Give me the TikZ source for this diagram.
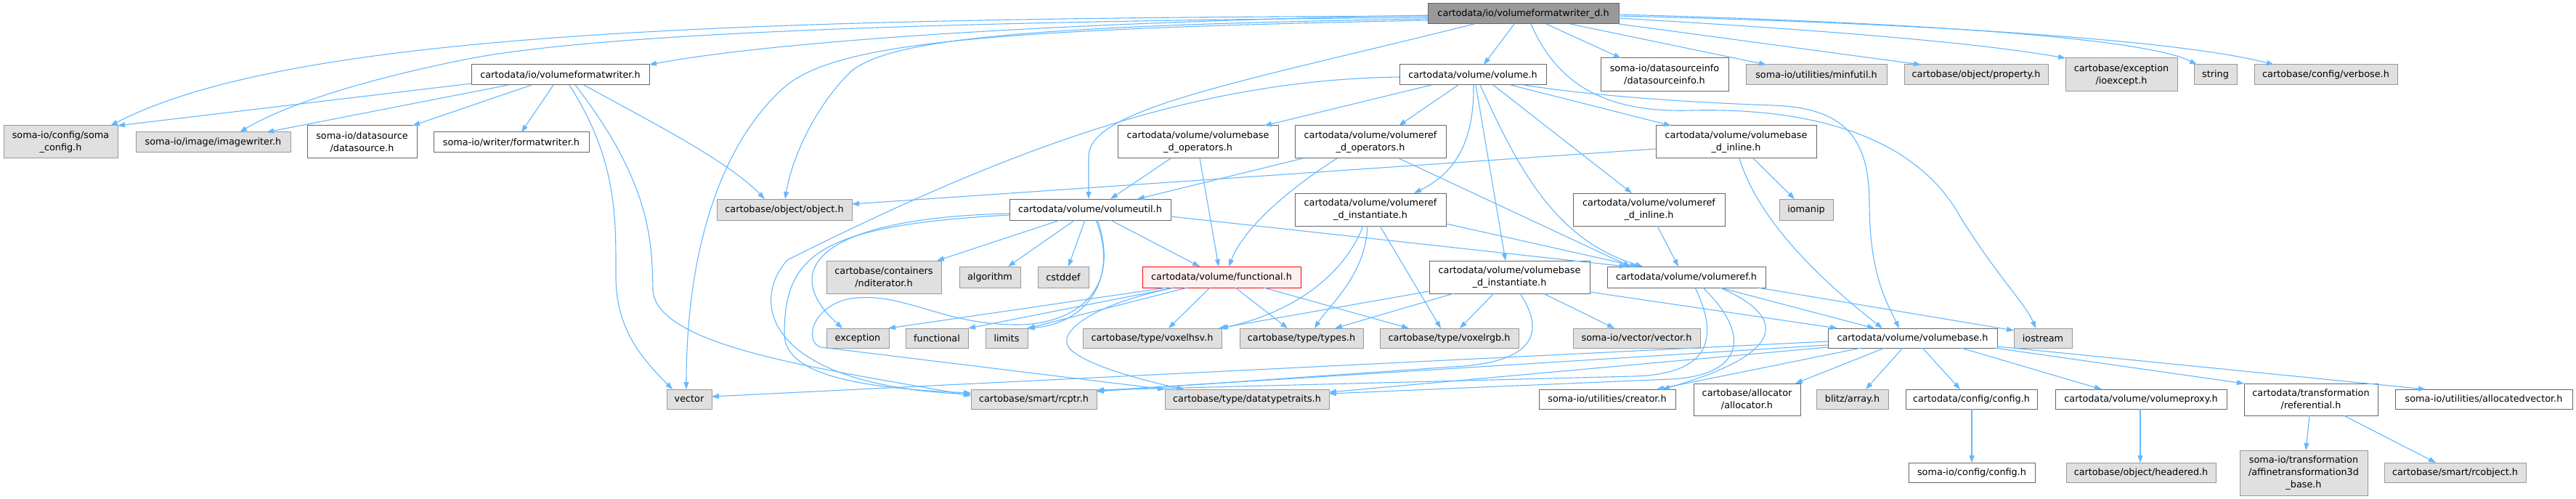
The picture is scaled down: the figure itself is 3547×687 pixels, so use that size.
\documentclass[tikz,border=0pt]{standalone}
\usepackage{fontspec}
\setmainfont{DejaVu Sans}
\usetikzlibrary{arrows.meta}
\definecolor{edgec}{HTML}{63B8FF}
\definecolor{gfill}{HTML}{E0E0E0}
\definecolor{gdraw}{HTML}{999999}
\definecolor{wdraw}{HTML}{666666}
\definecolor{topfill}{HTML}{999999}
\definecolor{redfill}{HTML}{FFF0F0}
\newcommand\mkbox[7]{\node[#6, minimum width={(#3-#2)*1pt}, minimum height={(#5-#4)*1pt}] (#1) at ({(#2+#3)/2},{(#4+#5)/2}) {#7};}
\begin{document}
\begin{tikzpicture}[x=1pt,y=-1pt,
 box/.style={rectangle, inner sep=0pt, outer sep=0pt, align=center, font=\fontsize{12.8}{17}\selectfont, line width=1pt},
 gbox/.style={box, fill=gfill, draw=gdraw},
 wbox/.style={box, fill=white, draw=wdraw},
 tbox/.style={box, fill=topfill, draw=wdraw},
 rbox/.style={box, fill=redfill, draw=red},
 edg/.style={draw=edgec, line width=1.1pt, -{Triangle[length=10pt,width=7pt]}}]
\fill[white] (0,0) rectangle (3547,687);
\useasboundingbox (0,0) rectangle (3547,687);
% nodes
\mkbox{top}{1966}{2229}{5}{33}{tbox}{cartodata/io/volumeformatwriter\_d.h}
\mkbox{vfw}{649}{894}{89}{117}{wbox}{cartodata/io/volumeformatwriter.h}
\mkbox{soma}{5}{162}{173}{218}{gbox}{soma-io/config/soma\\\_config.h}
\mkbox{imgw}{187}{400}{182}{210}{gbox}{soma-io/image/imagewriter.h}
\mkbox{dsrc}{423}{574}{173}{218}{wbox}{soma-io/datasource\\/datasource.h}
\mkbox{fmtw}{597}{811}{182}{210}{wbox}{soma-io/writer/formatwriter.h}
\mkbox{obj}{987}{1173}{274}{303}{gbox}{cartobase/object/object.h}
\mkbox{vutil}{1390}{1612}{274}{303}{wbox}{cartodata/volume/volumeutil.h}
\mkbox{vbops}{1539}{1760}{173}{218}{wbox}{cartodata/volume/volumebase\\\_d\_operators.h}
\mkbox{vol}{1927}{2129}{89}{117}{wbox}{cartodata/volume/volume.h}
\mkbox{vrops}{1783}{1991}{173}{218}{wbox}{cartodata/volume/volumeref\\\_d\_operators.h}
\mkbox{dsinfo}{2204}{2380}{80}{126}{wbox}{soma-io/datasourceinfo\\/datasourceinfo.h}
\mkbox{minf}{2404}{2598}{89}{117}{gbox}{soma-io/utilities/minfutil.h}
\mkbox{vbinl}{2280}{2501}{173}{218}{wbox}{cartodata/volume/volumebase\\\_d\_inline.h}
\mkbox{vrinst}{1783}{1991}{266}{311}{wbox}{cartodata/volume/volumeref\\\_d\_instantiate.h}
\mkbox{vrinl}{2166}{2375}{266}{311}{wbox}{cartodata/volume/volumeref\\\_d\_inline.h}
\mkbox{ioman}{2450}{2524}{274}{303}{gbox}{iomanip}
\mkbox{prop}{2622}{2820}{89}{117}{gbox}{cartobase/object/property.h}
\mkbox{ioexc}{2844}{2998}{80}{126}{gbox}{cartobase/exception\\/ioexcept.h}
\mkbox{str}{3021}{3080}{89}{117}{gbox}{string}
\mkbox{verb}{3104}{3301}{89}{117}{gbox}{cartobase/config/verbose.h}
\mkbox{ndit}{1138}{1296}{359}{404}{gbox}{cartobase/containers\\/nditerator.h}
\mkbox{algo}{1321}{1405}{367}{396}{gbox}{algorithm}
\mkbox{cstd}{1429}{1499}{367}{396}{gbox}{cstddef}
\mkbox{func}{1573}{1791}{367}{396}{rbox}{cartodata/volume/functional.h}
\mkbox{vbinst}{1968}{2189}{359}{404}{wbox}{cartodata/volume/volumebase\\\_d\_instantiate.h}
\mkbox{vref}{2213}{2431}{367}{396}{wbox}{cartodata/volume/volumeref.h}
\mkbox{exc}{1138}{1224}{452}{479}{gbox}{exception}
\mkbox{fnl}{1247}{1333}{452}{479}{gbox}{functional}
\mkbox{lim}{1357}{1415}{452}{479}{gbox}{limits}
\mkbox{hsv}{1491}{1682}{452}{479}{gbox}{cartobase/type/voxelhsv.h}
\mkbox{types}{1707}{1877}{452}{479}{gbox}{cartobase/type/types.h}
\mkbox{rgb}{1900}{2091}{452}{479}{gbox}{cartobase/type/voxelrgb.h}
\mkbox{svec}{2166}{2341}{452}{479}{gbox}{soma-io/vector/vector.h}
\mkbox{vbase}{2517}{2750}{452}{479}{wbox}{cartodata/volume/volumebase.h}
\mkbox{iost}{2773}{2853}{452}{479}{gbox}{iostream}
\mkbox{vec}{918}{980}{536}{563}{gbox}{vector}
\mkbox{rcptr}{1337}{1510}{536}{563}{gbox}{cartobase/smart/rcptr.h}
\mkbox{dtt}{1604}{1830}{536}{563}{gbox}{cartobase/type/datatypetraits.h}
\mkbox{creat}{2119}{2307}{536}{563}{wbox}{soma-io/utilities/creator.h}
\mkbox{alloc}{2332}{2479}{528}{572}{wbox}{cartobase/allocator\\/allocator.h}
\mkbox{blitz}{2501}{2600}{536}{563}{gbox}{blitz/array.h}
\mkbox{ccfg}{2624}{2805}{536}{563}{wbox}{cartodata/config/config.h}
\mkbox{vproxy}{2830}{3066}{536}{563}{wbox}{cartodata/volume/volumeproxy.h}
\mkbox{refer}{3090}{3274}{528}{572}{wbox}{cartodata/transformation\\/referential.h}
\mkbox{avec}{3298}{3542}{536}{563}{wbox}{soma-io/utilities/allocatedvector.h}
\mkbox{scfg}{2628}{2802}{637}{664}{wbox}{soma-io/config/config.h}
\mkbox{hdr}{2845}{3051}{637}{664}{gbox}{cartobase/object/headered.h}
\mkbox{affine}{3084}{3260}{620}{682}{gbox}{soma-io/transformation\\/affinetransformation3d\\\_base.h}
\mkbox{rcobj}{3283}{3478}{637}{664}{gbox}{cartobase/smart/rcobject.h}
% edges from top
\draw[edg] ([yshift=-16pt]top.north west) .. controls (1400,32) and (1050,60) .. (vfw.north east);
\draw[edg] ([yshift=-17pt]top.north west) .. controls (1000,25) and (400,45) .. ([xshift=147pt]soma.north west);
\draw[edg] ([yshift=-19pt]top.north west) .. controls (1200,30) and (800,50) .. (640,82) .. controls (520,106) and (400,140) .. ([xshift=143pt]imgw.north west);
\draw[edg] ([yshift=-21pt]top.north west) .. controls (1400,35) and (1220,55) .. (1170,100) .. controls (1120,150) and (1090,220) .. ([xshift=94pt]obj.north west);
\draw[edg] ([yshift=-23pt]top.north west) .. controls (1350,40) and (1150,60) .. (1080,120) .. controls (990,200) and (945,350) .. ([xshift=27pt]vec.north west);
\draw[edg] ([xshift=64pt]top.south west) .. controls (1700,115) and (1500,150) .. (1499,215) -- ([xshift=109pt]vutil.north west);
\draw[edg] ([xshift=119pt]top.south west) -- ([xshift=116pt]vol.north west);
\draw[edg] ([xshift=163pt]top.south west) -- ([xshift=28pt]dsinfo.north west);
\draw[edg] ([xshift=196pt]top.south west) -- ([xshift=28pt]minf.north west);
\draw[edg] (top.south east) -- ([xshift=23pt]prop.north west);
\draw[edg] ([yshift=-20pt]top.north east) .. controls (2450,38) and (2700,55) .. (ioexc.north west);
\draw[edg] ([yshift=-15pt]top.north east) .. controls (2600,30) and (2950,50) .. ([xshift=4pt]str.north west);
\draw[edg] ([yshift=-17pt]top.north east) .. controls (2650,32) and (3000,55) .. ([xshift=27pt]verb.north west);
\draw[edg] ([xshift=142pt]top.south west) .. controls (2150,130) and (2230,155) .. (2330,152) .. controls (2500,148) and (2640,190) .. (2700,300) .. controls (2750,380) and (2790,420) .. ([xshift=30pt]iost.north west);
% edges from volumeformatwriter.h
\draw[edg] ([yshift=-26pt]vfw.north west) -- (soma.north east);
\draw[edg] ([xshift=51pt]vfw.south west) -- ([xshift=180pt]imgw.north west);
\draw[edg] ([xshift=83pt]vfw.south west) -- ([xshift=145pt]dsrc.north west);
\draw[edg] ([xshift=113pt]vfw.south west) -- ([xshift=121pt]fmtw.north west);
\draw[edg] ([xshift=135pt]vfw.south west) .. controls (850,220) and (848,300) .. (848,380) .. controls (848,450) and (880,490) .. ([xshift=8pt]vec.north west);
\draw[edg] ([xshift=143pt]vfw.south west) .. controls (895,250) and (898,330) .. (899,400) .. controls (905,480) and (1150,510) .. ([yshift=-9pt]rcptr.north west);
\draw[edg] ([xshift=155pt]vfw.south west) .. controls (900,170) and (1000,220) .. ([xshift=66pt]obj.north west);
% edges from volume.h
\draw[edg] ([xshift=44pt]vol.south west) -- ([xshift=202pt]vbops.north west);
\draw[edg] ([xshift=81pt]vol.south west) -- ([xshift=143pt]vrops.north west);
\draw[edg] ([xshift=102pt]vol.south west) .. controls (2030,200) and (2000,240) .. ([xshift=164pt]vrinst.north west);
\draw[edg] ([xshift=105pt]vol.south west) -- ([xshift=105pt]vbinst.north west);
\draw[edg] ([xshift=111pt]vol.south west) .. controls (2090,230) and (2140,330) .. ([xshift=49pt]vref.north west);
\draw[edg] ([xshift=129pt]vol.south west) -- ([xshift=81pt]vrinl.north west);
\draw[edg] ([xshift=153pt]vol.south west) -- ([xshift=21pt]vbinl.north west);
\draw[edg] ([xshift=171pt]vol.south west) .. controls (2180,130) and (2300,140) .. (2440,145) .. controls (2540,148) and (2574,190) .. (2574,280) .. controls (2574,380) and (2600,420) .. ([xshift=98pt]vbase.north west);
\draw[edg] ([yshift=-17pt]vol.north west) .. controls (1650,110) and (1400,200) .. (1084,358) .. controls (1030,420) and (1060,530) .. ([yshift=-7pt]rcptr.north west);
% edges from volumeutil.h
\draw[edg] ([yshift=-22pt]vutil.north west) .. controls (1130,310) and (1080,350) .. (1080,460) .. controls (1080,520) and (1200,535) .. ([yshift=-5pt]rcptr.north west);
\draw[edg] ([yshift=-20pt]vutil.north west) .. controls (1130,300) and (1070,370) .. ([xshift=22pt]exc.north west);
\draw[edg] ([xshift=70pt]vutil.south west) -- ([xshift=152pt]ndit.north west);
\draw[edg] ([xshift=90pt]vutil.south west) -- ([xshift=67pt]algo.north west);
\draw[edg] ([xshift=104pt]vutil.south west) -- ([xshift=42pt]cstd.north west);
\draw[edg] ([xshift=139pt]vutil.south west) -- ([xshift=79pt]func.north west);
\draw[edg] ([xshift=119pt]vutil.south west) .. controls (1540,380) and (1500,445) .. ([xshift=57pt]lim.north west);
\draw[edg] ([xshift=121pt]vutil.south west) .. controls (1545,400) and (1480,447) .. (1400,447) .. controls (1300,447) and (1250,405) .. (1180,410) .. controls (1120,415) and (1105,470) .. (1130,478) -- (dtt.north west);
\draw[edg] ([yshift=-24pt]vutil.north east) -- ([xshift=27pt]vref.north west);
% edges from functional.h
\draw[edg] ([xshift=34pt]func.south west) -- ([xshift=-1pt]exc.north east);
\draw[edg] ([xshift=44pt]func.south west) -- (fnl.north east);
\draw[edg] ([xshift=62pt]func.south west) -- (lim.north east);
\draw[edg] ([xshift=93pt]func.south west) -- ([xshift=118pt]hsv.north west);
\draw[edg] ([xshift=128pt]func.south west) -- ([xshift=66pt]types.north west);
\draw[edg] ([xshift=167pt]func.south west) -- ([xshift=40pt]rgb.north west);
\draw[edg] ([xshift=44pt]func.south west) .. controls (1500,420) and (1450,460) .. (1475,482) .. controls (1500,505) and (1580,525) .. ([xshift=26pt]dtt.north west);
% edges from volumebase_d_operators / volumeref_d_operators
\draw[edg] ([xshift=73pt]vbops.south west) -- ([xshift=139pt]vutil.north west);
\draw[edg] ([xshift=113pt]vbops.south west) -- ([xshift=105pt]func.north west);
\draw[edg] ([xshift=11pt]vrops.south west) -- ([xshift=176pt]vutil.north west);
\draw[edg] ([xshift=58pt]vrops.south west) .. controls (1760,270) and (1710,320) .. ([xshift=119pt]func.north west);
\draw[edg] ([xshift=143pt]vrops.south west) -- ([xshift=32pt]vref.north west);
% edges from volumebase_d_inline / volumeref_d_inline
\draw[edg] ([yshift=-32pt]vbinl.north west) -- ([yshift=-7pt]obj.north east);
\draw[edg] ([xshift=134pt]vbinl.south west) -- ([xshift=21pt]ioman.north west);
\draw[edg] ([xshift=115pt]vbinl.south west) .. controls (2420,300) and (2500,380) .. ([xshift=75pt]vbase.north west);
\draw[edg] ([xshift=116pt]vrinl.south west) -- ([xshift=98pt]vref.north west);
% edges from volumeref_d_instantiate
\draw[edg] ([xshift=94pt]vrinst.south west) .. controls (1850,380) and (1780,430) .. ([xshift=-1pt]hsv.north east);
\draw[edg] ([xshift=100pt]vrinst.south west) .. controls (1880,380) and (1830,420) .. ([xshift=103pt]types.north west);
\draw[edg] ([xshift=117pt]vrinst.south west) -- ([xshift=84pt]rgb.north west);
\draw[edg] ([yshift=-42pt]vrinst.north east) -- ([xshift=42pt]vref.north west);
% edges from volumebase_d_instantiate
\draw[edg] ([yshift=-42pt]vbinst.north west) -- ([xshift=-4pt]hsv.north east);
\draw[edg] ([xshift=34pt]vbinst.south west) -- ([xshift=131pt]types.north west);
\draw[edg] ([xshift=89pt]vbinst.south west) -- ([xshift=110pt]rgb.north west);
\draw[edg] ([xshift=157pt]vbinst.south west) -- ([xshift=57pt]svec.north west);
\draw[edg] ([yshift=-43pt]vbinst.north east) -- ([xshift=13pt]vbase.north west);
\draw[edg] ([xshift=125pt]vbinst.south west) .. controls (2130,460) and (2110,500) .. (2000,505) -- ([yshift=-3pt]rcptr.north east);
% edges from volumeref.h
\draw[edg] ([xshift=155pt]vref.south west) -- ([xshift=64pt]vbase.north west);
\draw[edg] ([xshift=207pt]vref.south west) -- ([yshift=-3pt]iost.north west);
\draw[edg] ([xshift=155pt]vref.south west) .. controls (2470,440) and (2450,490) .. ([xshift=170pt]creat.north west);
\draw[edg] ([xshift=121pt]vref.south west) .. controls (2370,470) and (2350,515) .. (2250,518) -- ([yshift=-1pt]rcptr.north east);
\draw[edg] ([xshift=132pt]vref.south west) .. controls (2420,470) and (2390,518) .. (2300,522) -- ([yshift=-6pt]dtt.north east);
% edges from volumebase.h
\draw[edg] ([yshift=-18pt]vbase.north west) -- ([yshift=-10pt]vec.north east);
\draw[edg] ([yshift=-23pt]vbase.north west) -- ([yshift=-2pt]rcptr.north east);
\draw[edg] ([yshift=-26pt]vbase.north west) -- ([yshift=-4pt]dtt.north east);
\draw[edg] ([xshift=46pt]vbase.south west) -- ([xshift=162pt]creat.north west);
\draw[edg] ([xshift=78pt]vbase.south west) -- ([xshift=140pt]alloc.north west);
\draw[edg] ([xshift=103pt]vbase.south west) -- ([xshift=68pt]blitz.north west);
\draw[edg] ([xshift=130pt]vbase.south west) -- ([xshift=75pt]ccfg.north west);
\draw[edg] ([xshift=183pt]vbase.south west) -- ([xshift=64pt]vproxy.north west);
\draw[edg] ([xshift=229pt]vbase.south west) -- (refer.north west);
\draw[edg] ([yshift=-25pt]vbase.north east) -- ([xshift=42pt]avec.north west);
% bottom row edges
\draw[edg] ([xshift=91pt]ccfg.south west) -- ([xshift=87pt]scfg.north west);
\draw[edg] ([xshift=117pt]vproxy.south west) -- ([xshift=102pt]hdr.north west);
\draw[edg] ([xshift=90pt]refer.south west) -- ([xshift=91pt]affine.north west);
\draw[edg] ([xshift=137pt]refer.south west) -- ([xshift=71pt]rcobj.north west);
\end{tikzpicture}
\end{document}
